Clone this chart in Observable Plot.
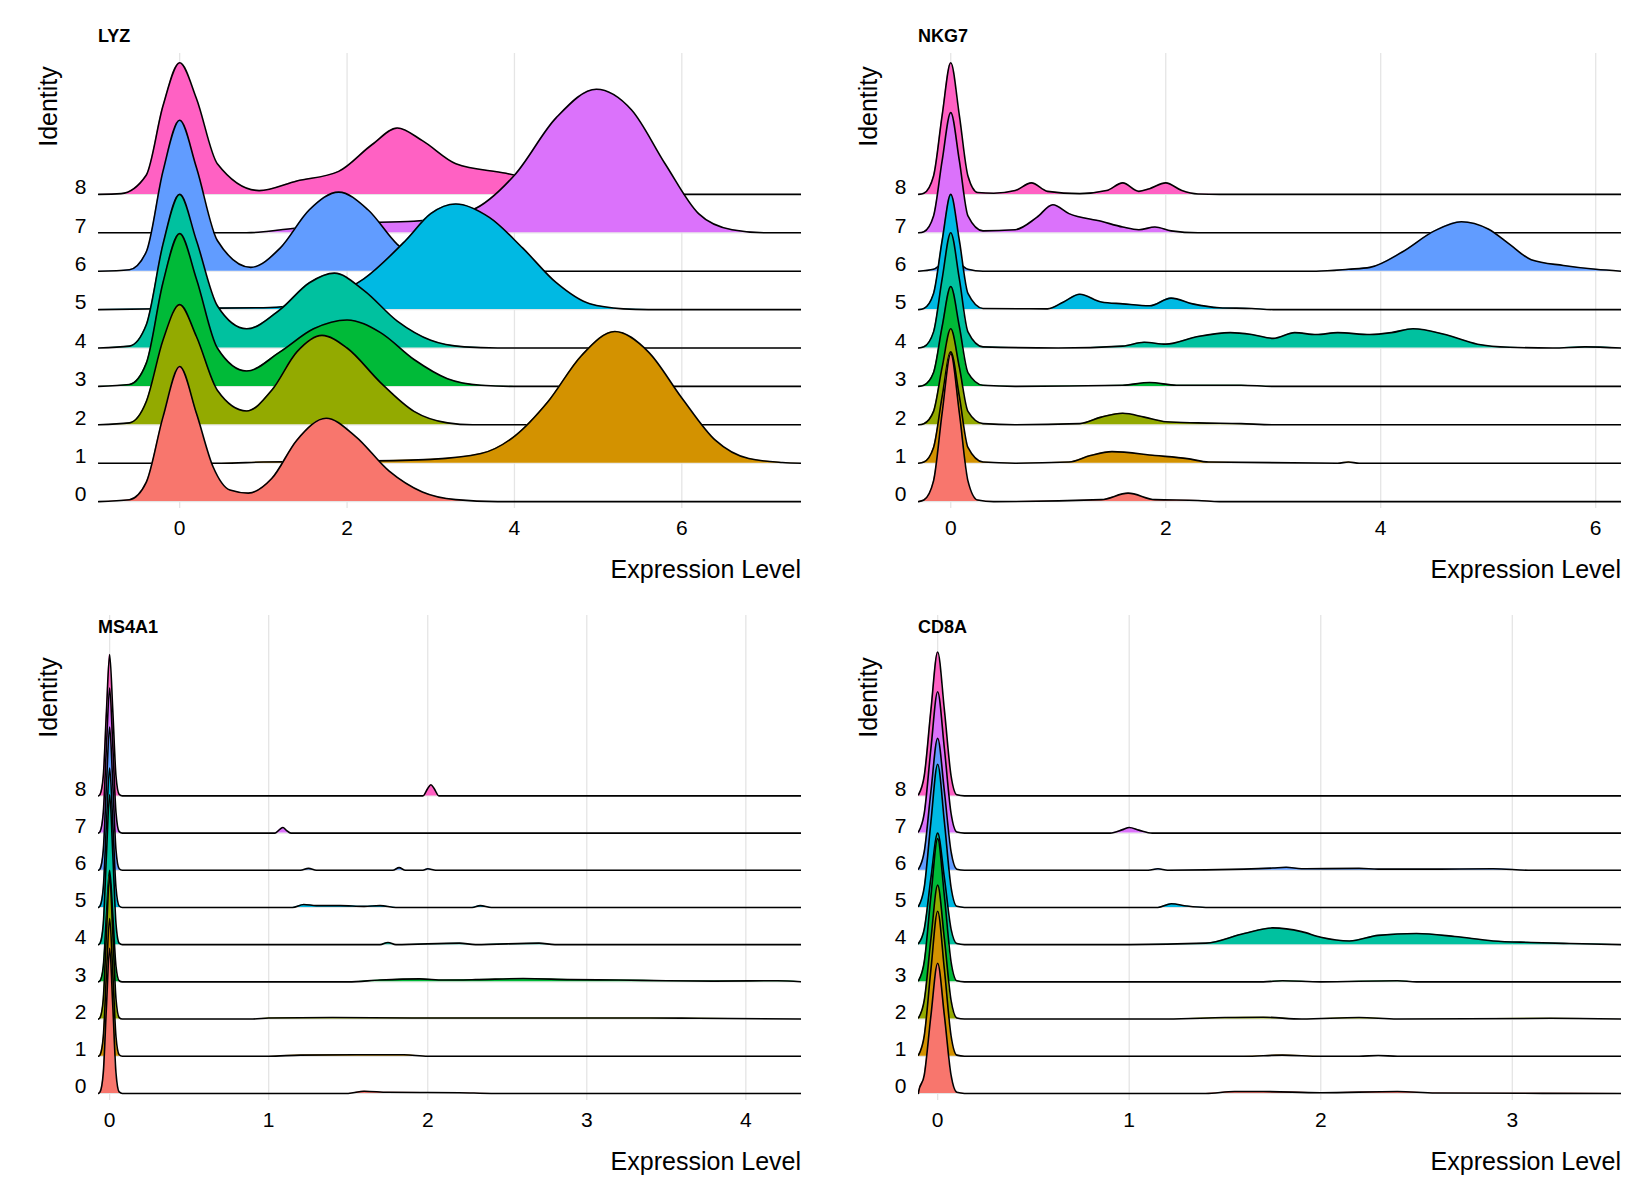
<!DOCTYPE html>
<html><head><meta charset="utf-8">
<script src="https://cdn.jsdelivr.net/npm/d3@7"></script>
<script src="https://cdn.jsdelivr.net/npm/@observablehq/plot@0.6"></script>
<style>
body{margin:0;background:#fff;font-family:"Liberation Sans",Arial,sans-serif;}
#root{position:relative;width:1650px;height:1200px;}
.abs{position:absolute;}
.title{font-weight:bold;font-size:18px;color:#000;}
.xl{font-size:25px;color:#000;text-align:right;}
.yl{font-size:25px;color:#000;transform:rotate(-90deg);transform-origin:center;white-space:nowrap;}
</style></head><body><div id="root"></div>
<script>
const identities = [0,1,2,3,4,5,6,7,8];
const colors = ["#F8766D","#D39200","#93AA00","#00BA38","#00C19F","#00B9E3","#619CFF","#DB72FB","#FF61C3"];

// LYZ ridges: [expression, density height in ridge spacings]
const lyz = [
 [[-0.97,0],[-0.6,0.05],[-0.4,0.5],[-0.2,2.2],[0,3.52],[0.2,2.3],[0.4,0.9],[0.6,0.3],[0.82,0.22],[1.1,0.6],[1.4,1.6],[1.75,2.17],[2.1,1.7],[2.5,0.8],[2.9,0.25],[3.3,0.05],[3.8,0],[7.43,0]],
 [[-0.97,0],[0.5,0],[1,0.03],[2,0.05],[3,0.1],[3.6,0.25],[4,0.7],[4.4,1.6],[4.8,2.8],[5.2,3.43],[5.6,2.9],[6,1.7],[6.4,0.6],[6.8,0.12],[7.2,0.02],[7.43,0]],
 [[-0.97,0],[-0.6,0.05],[-0.4,0.6],[-0.2,2.2],[0,3.13],[0.2,2.3],[0.45,0.9],[0.8,0.36],[1.1,0.9],[1.4,1.9],[1.7,2.33],[2.0,2.0],[2.4,1.1],[2.8,0.35],[3.2,0.05],[3.5,0],[7.43,0]],
 [[-0.97,0],[-0.6,0.05],[-0.4,0.6],[-0.2,2.7],[0,3.98],[0.2,2.8],[0.45,1.0],[0.8,0.4],[1.2,0.9],[1.6,1.5],[2.0,1.73],[2.4,1.4],[2.8,0.7],[3.2,0.2],[3.6,0.03],[4,0],[7.43,0]],
 [[-0.97,0],[-0.6,0.05],[-0.4,0.6],[-0.2,2.7],[0,4.0],[0.2,2.8],[0.45,1.1],[0.8,0.5],[1.2,1.0],[1.55,1.7],[1.85,1.95],[2.2,1.5],[2.6,0.7],[3,0.2],[3.4,0.03],[3.8,0],[7.43,0]],
 [[-0.97,0],[0,0.03],[1,0.05],[1.6,0.2],[2.2,0.8],[2.7,1.8],[3.0,2.5],[3.3,2.75],[3.7,2.4],[4.1,1.6],[4.5,0.7],[4.9,0.15],[5.3,0.02],[5.6,0],[7.43,0]],
 [[-0.97,0],[-0.6,0.04],[-0.4,0.5],[-0.2,2.6],[0,3.93],[0.2,2.7],[0.45,0.8],[0.85,0.1],[1.2,0.6],[1.55,1.6],[1.9,2.06],[2.25,1.6],[2.6,0.7],[3,0.15],[3.4,0],[7.43,0]],
 [[-0.97,0],[0.8,0],[1.3,0.1],[2,0.25],[2.8,0.3],[3.5,0.6],[4,1.5],[4.5,3.0],[4.98,3.74],[5.4,3.2],[5.8,1.8],[6.2,0.5],[6.6,0.08],[7,0],[7.43,0]],
 [[-0.97,0],[-0.7,0.02],[-0.4,0.5],[-0.2,2.3],[0,3.43],[0.2,2.5],[0.45,0.8],[0.95,0.1],[1.4,0.35],[1.9,0.6],[2.3,1.3],[2.6,1.73],[2.9,1.4],[3.3,0.8],[3.9,0.55],[4.4,0.3],[5,0.05],[5.5,0],[7.43,0]]
];

const nkg7 = [
 [[-0.3,0],[-0.25,0.04],[-0.16,0.54],[-0.08,2.31],[0,3.85],[0.08,2.31],[0.16,0.54],[0.25,0.04],[0.4,0],[1.4,0.05],[1.65,0.22],[1.9,0.05],[2.3,0.03],[2.5,0],[6.24,0]],
 [[-0.3,0],[-0.25,0.03],[-0.16,0.41],[-0.08,1.74],[0,2.9],[0.08,1.74],[0.16,0.41],[0.3,0.03],[0.6,0],[1.1,0.03],[1.3,0.2],[1.5,0.3],[1.9,0.2],[2.2,0.12],[2.4,0.03],[3.6,0],[3.7,0.03],[3.8,0],[6.24,0]],
 [[-0.3,0],[-0.25,0.03],[-0.16,0.35],[-0.08,1.5],[0,2.5],[0.08,1.5],[0.16,0.35],[0.3,0.03],[0.6,0],[1.2,0.03],[1.4,0.2],[1.6,0.3],[1.8,0.2],[2.0,0.08],[2.3,0.05],[2.7,0.03],[3,0],[6.24,0]],
 [[-0.3,0],[-0.25,0.03],[-0.16,0.36],[-0.08,1.56],[0,2.6],[0.08,1.56],[0.16,0.36],[0.3,0.03],[0.6,0],[1.6,0.03],[1.85,0.1],[2.1,0.03],[2.7,0.03],[3,0],[6.24,0]],
 [[-0.3,0],[-0.25,0.03],[-0.16,0.42],[-0.08,1.8],[0,3.0],[0.08,1.8],[0.16,0.42],[0.3,0.03],[1,0],[1.6,0.05],[1.8,0.15],[2.0,0.1],[2.3,0.3],[2.6,0.4],[2.8,0.35],[3.0,0.25],[3.2,0.4],[3.4,0.35],[3.6,0.4],[3.9,0.35],[4.1,0.4],[4.3,0.5],[4.6,0.35],[4.9,0.1],[5.2,0.02],[5.6,0],[5.9,0.03],[6.24,0]],
 [[-0.3,0],[-0.25,0.03],[-0.16,0.42],[-0.08,1.8],[0,3.0],[0.08,1.8],[0.16,0.42],[0.3,0.03],[0.9,0.02],[1.05,0.2],[1.2,0.4],[1.4,0.2],[1.6,0.15],[1.85,0.1],[2.05,0.3],[2.25,0.15],[2.5,0.05],[2.8,0.03],[3.0,0],[6.24,0]],
 [[-0.3,0],[-0.16,0.05],[-0.08,0.2],[0,0.3],[0.08,0.2],[0.16,0.05],[0.3,0],[3.4,0],[3.7,0.05],[3.9,0.1],[4.2,0.5],[4.5,1.05],[4.75,1.29],[5.0,1.1],[5.2,0.7],[5.4,0.3],[5.7,0.15],[6.0,0.05],[6.24,0]],
 [[-0.3,0],[-0.25,0.03],[-0.16,0.44],[-0.08,1.88],[0,3.13],[0.08,1.88],[0.16,0.44],[0.3,0.05],[0.6,0.08],[0.8,0.4],[0.95,0.73],[1.1,0.5],[1.4,0.3],[1.6,0.15],[1.75,0.08],[1.9,0.15],[2.05,0.05],[2.3,0],[6.24,0]],
 [[-0.3,0],[-0.25,0.03],[-0.16,0.48],[-0.08,2.06],[0,3.43],[0.08,2.06],[0.16,0.48],[0.25,0.05],[0.4,0.03],[0.6,0.1],[0.75,0.3],[0.9,0.08],[1.2,0.02],[1.45,0.1],[1.6,0.3],[1.75,0.08],[1.85,0.15],[2.0,0.3],[2.15,0.1],[2.3,0.01],[2.5,0],[6.24,0]]
];

const ms4a1 = [
 [[-0.07,0],[-0.06,0.04],[-0.04,0.55],[-0.02,2.34],[0,3.9],[0.02,2.34],[0.04,0.55],[0.06,0.04],[0.08,0],[1.5,0],[1.6,0.06],[1.75,0.03],[2.2,0.02],[2.4,0],[4.35,0]],
 [[-0.07,0],[-0.06,0.04],[-0.04,0.52],[-0.02,2.22],[0,3.7],[0.02,2.22],[0.04,0.52],[0.06,0.04],[0.08,0],[1.0,0],[1.2,0.03],[1.55,0.04],[1.85,0.04],[2.0,0],[4.35,0]],
 [[-0.07,0],[-0.06,0.04],[-0.04,0.54],[-0.02,2.31],[0,3.85],[0.02,2.31],[0.04,0.54],[0.06,0.04],[0.08,0],[0.9,0],[1.0,0.03],[1.4,0.04],[1.9,0.03],[2.6,0.03],[3.4,0.03],[3.7,0.02],[4.35,0]],
 [[-0.07,0],[-0.06,0.03],[-0.04,0.42],[-0.02,1.8],[0,3.0],[0.02,1.8],[0.04,0.42],[0.06,0.03],[0.08,0],[1.5,0],[1.7,0.05],[1.95,0.08],[2.1,0.05],[2.3,0.06],[2.6,0.09],[2.9,0.06],[3.2,0.05],[3.5,0.03],[3.8,0.02],[4.2,0.03],[4.35,0]],
 [[-0.07,0],[-0.06,0.04],[-0.04,0.56],[-0.02,2.42],[0,4.03],[0.02,2.42],[0.04,0.56],[0.06,0.04],[0.08,0],[1.7,0],[1.75,0.06],[1.8,0],[2.2,0.04],[2.3,0],[2.7,0.04],[2.8,0],[4.35,0]],
 [[-0.07,0],[-0.06,0.04],[-0.04,0.53],[-0.02,2.25],[0,3.75],[0.02,2.25],[0.04,0.53],[0.06,0.04],[0.08,0],[1.15,0],[1.22,0.08],[1.3,0.05],[1.45,0.05],[1.6,0.03],[1.7,0.05],[1.8,0],[2.28,0],[2.33,0.05],[2.4,0],[4.35,0]],
 [[-0.07,0],[-0.06,0.04],[-0.04,0.54],[-0.02,2.31],[0,3.85],[0.02,2.31],[0.04,0.54],[0.06,0.04],[0.08,0],[1.2,0],[1.25,0.05],[1.3,0],[1.78,0],[1.82,0.07],[1.86,0],[1.97,0],[2.0,0.04],[2.05,0],[4.35,0]],
 [[-0.07,0],[-0.06,0.04],[-0.04,0.55],[-0.02,2.34],[0,3.9],[0.02,2.34],[0.04,0.55],[0.06,0.04],[0.08,0],[1.04,0],[1.07,0.1],[1.09,0.15],[1.11,0.08],[1.14,0],[4.35,0]],
 [[-0.07,0],[-0.06,0.04],[-0.04,0.53],[-0.02,2.28],[0,3.8],[0.02,2.28],[0.04,0.53],[0.06,0.04],[0.08,0],[1.97,0],[2.0,0.2],[2.02,0.3],[2.04,0.2],[2.07,0],[4.35,0]]
];

const cd8a = [
 [[-0.1,0],[-0.1,0.03],[-0.07,0.49],[-0.035,2.1],[0,3.5],[0.035,2.1],[0.07,0.49],[0.1,0.03],[0.14,0],[1.4,0],[1.55,0.05],[1.7,0.05],[2.0,0.02],[2.4,0.05],[2.6,0.01],[3.57,0]],
 [[-0.1,0.03],[-0.07,0.55],[-0.035,2.34],[0,3.9],[0.035,2.34],[0.07,0.55],[0.1,0.03],[0.14,0],[1.6,0],[1.8,0.03],[2.0,0],[2.2,0],[2.3,0.02],[2.4,0],[3.57,0]],
 [[-0.1,0.03],[-0.07,0.5],[-0.035,2.16],[0,3.6],[0.035,2.16],[0.07,0.5],[0.1,0.03],[0.14,0],[1.2,0],[1.5,0.04],[1.7,0.05],[1.9,0],[2.2,0.04],[2.4,0],[3.2,0.02],[3.57,0]],
 [[-0.1,0.03],[-0.07,0.54],[-0.035,2.31],[0,3.85],[0.035,2.31],[0.07,0.54],[0.1,0.03],[0.14,0],[1.7,0],[1.8,0.03],[2.0,0],[2.4,0.03],[2.5,0],[3.57,0]],
 [[-0.1,0.03],[-0.07,0.42],[-0.035,1.8],[0,3.0],[0.035,1.8],[0.07,0.42],[0.1,0.03],[0.14,0],[1.0,0],[1.4,0.04],[1.6,0.3],[1.75,0.45],[1.9,0.35],[2.0,0.2],[2.15,0.1],[2.3,0.25],[2.5,0.3],[2.7,0.22],[2.9,0.1],[3.1,0.06],[3.3,0.03],[3.57,0]],
 [[-0.1,0.03],[-0.07,0.54],[-0.035,2.31],[0,3.85],[0.035,2.31],[0.07,0.54],[0.1,0.03],[0.14,0],[1.15,0],[1.22,0.1],[1.3,0.04],[1.4,0],[3.57,0]],
 [[-0.1,0.03],[-0.07,0.5],[-0.035,2.13],[0,3.55],[0.035,2.13],[0.07,0.5],[0.1,0.03],[0.14,0],[1.1,0],[1.15,0.04],[1.2,0],[1.6,0.03],[1.75,0.06],[1.82,0.08],[1.9,0.04],[2.2,0.05],[2.3,0.03],[2.6,0.03],[2.9,0.04],[3.1,0],[3.57,0]],
 [[-0.1,0.03],[-0.07,0.53],[-0.035,2.28],[0,3.8],[0.035,2.28],[0.07,0.53],[0.1,0.03],[0.14,0],[0.9,0],[0.97,0.1],[1.0,0.15],[1.05,0.08],[1.12,0],[3.57,0]],
 [[-0.1,0.03],[-0.07,0.54],[-0.035,2.32],[0,3.87],[0.035,2.32],[0.07,0.54],[0.1,0.03],[0.14,0],[3.57,0]]
];

const panels = [
 {name:"LYZ", ridges:lyz, xdom:[-0.97,7.43], xticks:[0,2,4,6], left:0, top:45, ydom:[-0.18,11.67], mt:8, mb:97},
 {name:"NKG7", ridges:nkg7, xdom:[-0.3,6.24], xticks:[0,2,4,6], left:820, top:45, ydom:[-0.18,11.67], mt:8, mb:97},
 {name:"MS4A1", ridges:ms4a1, xdom:[-0.07,4.35], xticks:[0,1,2,3,4], left:0, top:605, ydom:[-0.19,12.85], mt:10, mb:65},
 {name:"CD8A", ridges:cd8a, xdom:[-0.1,3.57], xticks:[0,1,2,3], left:820, top:605, ydom:[-0.19,12.85], mt:10, mb:65}
];

const root = document.getElementById("root");
const W = 805, H = 560, ML = 98, MR = 4;
panels.forEach(p => {
  const marks = [
    Plot.gridX(p.xticks, {stroke:"#e5e5e5", strokeOpacity:1, strokeWidth:1.3}),
    Plot.gridY(identities, {stroke:"#e5e5e5", strokeOpacity:1, strokeWidth:1.3}),
    Plot.axisX(p.xticks, {tickSize:0, tickPadding:12, fontSize:21, label:null, tickFormat:d=>String(d)}),
    Plot.axisY(identities, {tickSize:0, tickPadding:12, fontSize:21, dy:-7, label:null})
  ];
  for (let i = 8; i >= 0; i--) {
    const rows = p.ridges[i].map(([x,h]) => ({x, h}));
    marks.push(Plot.areaY(rows, {x:"x", y1:() => i, y2:d => i + d.h, fill:colors[i], curve:"monotone-x"}));
    marks.push(Plot.line(rows, {x:"x", y:d => i + d.h, stroke:"#000", strokeWidth:1.6, curve:"monotone-x"}));
  }
  const svg = Plot.plot({
    width:W, height:H, marginLeft:ML, marginRight:MR, marginTop:p.mt, marginBottom:p.mb,
    x:{domain:p.xdom}, y:{domain:p.ydom}, clip:true,
    style:{fontFamily:"Liberation Sans, Arial, sans-serif", color:"#000", background:"transparent"},
    marks
  });
  const d = document.createElement("div");
  d.className = "abs"; d.style.left = p.left+"px"; d.style.top = p.top+"px";
  d.appendChild(svg); root.appendChild(d);
  const t = document.createElement("div");
  t.className = "abs title"; t.textContent = p.name;
  t.style.left = (p.left+ML)+"px"; t.style.top = (p.top - (p.mt===8?19:-12))+"px";
  root.appendChild(t);
  const xl = document.createElement("div");
  xl.className = "abs xl"; xl.textContent = "Expression Level";
  xl.style.left = (p.left)+"px"; xl.style.width = (W-MR)+"px";
  xl.style.top = (p.top + (p.mt===8 ? 510 : 542))+"px";
  root.appendChild(xl);
  const yl = document.createElement("div");
  yl.className = "abs yl"; yl.textContent = "Identity";
  yl.style.left = (p.left+0)+"px"; yl.style.width="96px"; yl.style.textAlign="center";
  yl.style.top = (p.top + (p.mt===8 ? 47 : 78))+"px";
  root.appendChild(yl);
});
</script></body></html>
